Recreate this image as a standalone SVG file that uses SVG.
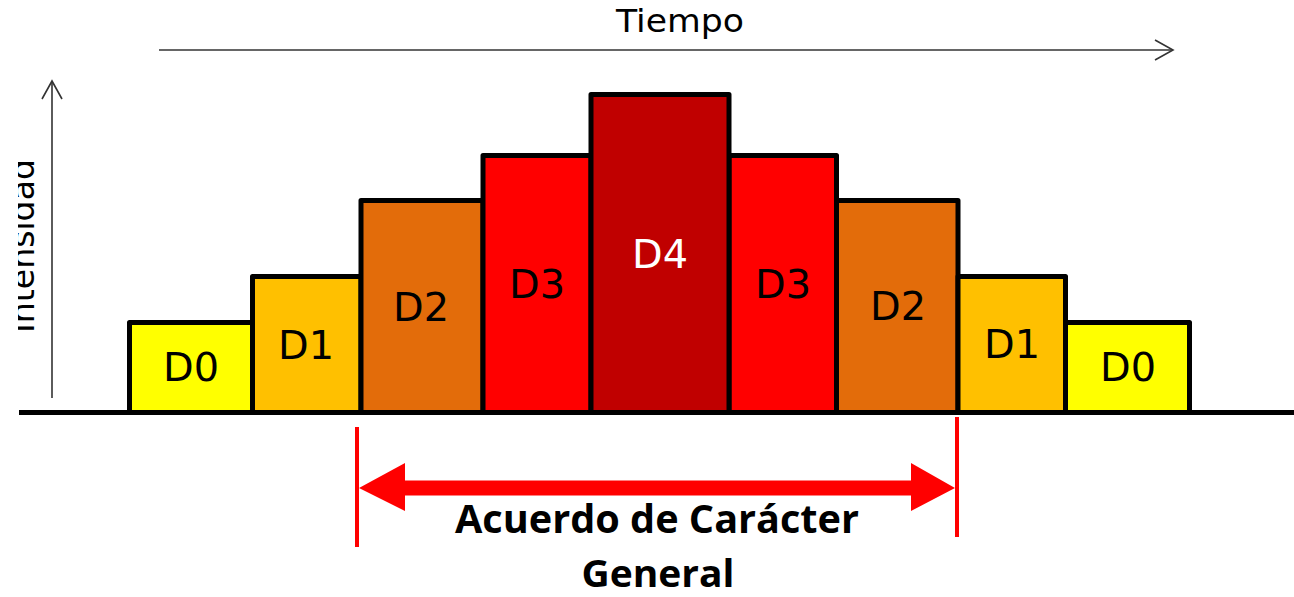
<svg xmlns="http://www.w3.org/2000/svg" width="1294" height="597" viewBox="0 0 1294 597">
  <defs>
    <style>
      .bar { stroke: #000; stroke-width: 5; stroke-linejoin: round; }
      .lbl { font-family: "DejaVu Sans", sans-serif; font-size: 39px; text-anchor: middle; fill: #000; }
      .axis { stroke: #333; stroke-width: 1.6; fill: none; }
      .cap { font-family: "Open Sans", "Liberation Sans", sans-serif; font-weight: bold; font-size: 40px; text-anchor: middle; fill: #000; }
      .red { stroke: #ff0000; stroke-width: 4; }
    </style>
    <clipPath id="clipInt">
      <rect x="18" y="0" width="60" height="597"/>
    </clipPath>
  </defs>
  <rect width="1294" height="597" fill="#fff"/>

  <g id="axes">
    <line class="axis" x1="159" y1="50" x2="1172" y2="50"/>
    <polyline class="axis" stroke-width="2" points="1155,40 1173,50 1155,60"/>
    <text x="680" y="32" font-family="DejaVu Sans, sans-serif" font-size="32" text-anchor="middle" textLength="128" lengthAdjust="spacingAndGlyphs" fill="#000">Tiempo</text>
    <line class="axis" x1="52" y1="398" x2="52" y2="82"/>
    <polyline class="axis" stroke-width="2" points="42,99 52,81 62,99"/>
    <g clip-path="url(#clipInt)">
      <text transform="translate(34,246) rotate(-90)" x="0" y="0" font-family="DejaVu Sans, sans-serif" font-size="34" text-anchor="middle" textLength="174" lengthAdjust="spacingAndGlyphs" fill="#000">Intensidad</text>
    </g>
  </g>

  <g id="bar-d0-left">
    <rect class="bar" x="129.5" y="322.5" width="123" height="90" fill="#ffff00"/>
    <text class="lbl" x="191" y="381" textLength="56" lengthAdjust="spacingAndGlyphs">D0</text>
  </g>
  <g id="bar-d1-left">
    <rect class="bar" x="252.5" y="276.5" width="108.5" height="136" fill="#ffc000"/>
    <text class="lbl" x="306" y="359" textLength="56" lengthAdjust="spacingAndGlyphs">D1</text>
  </g>
  <g id="bar-d2-left">
    <rect class="bar" x="361" y="200.5" width="122" height="212" fill="#e36c0a"/>
    <text class="lbl" x="421" y="321" textLength="56" lengthAdjust="spacingAndGlyphs">D2</text>
  </g>
  <g id="bar-d3-left">
    <rect class="bar" x="483" y="155.5" width="108" height="257" fill="#ff0000"/>
    <text class="lbl" x="537" y="298" textLength="56" lengthAdjust="spacingAndGlyphs">D3</text>
  </g>
  <g id="bar-d3-right">
    <rect class="bar" x="729" y="155.5" width="107.5" height="257" fill="#ff0000"/>
    <text class="lbl" x="783" y="298" textLength="56" lengthAdjust="spacingAndGlyphs">D3</text>
  </g>
  <g id="bar-d2-right">
    <rect class="bar" x="836.5" y="200.5" width="121.5" height="212" fill="#e36c0a"/>
    <text class="lbl" x="898" y="320" textLength="56" lengthAdjust="spacingAndGlyphs">D2</text>
  </g>
  <g id="bar-d1-right">
    <rect class="bar" x="958" y="276.5" width="107.5" height="136" fill="#ffc000"/>
    <text class="lbl" x="1012" y="358" textLength="56" lengthAdjust="spacingAndGlyphs">D1</text>
  </g>
  <g id="bar-d0-right">
    <rect class="bar" x="1065.5" y="322.5" width="124" height="90" fill="#ffff00"/>
    <text class="lbl" x="1128" y="381" textLength="56" lengthAdjust="spacingAndGlyphs">D0</text>
  </g>
  <g id="bar-d4">
    <rect class="bar" x="591" y="94.5" width="138" height="318" fill="#c00000"/>
    <text class="lbl" x="660" y="268" textLength="56" lengthAdjust="spacingAndGlyphs" style="fill:#fff">D4</text>
  </g>

  <g id="connectors">
    <line x1="19" y1="412.5" x2="1294" y2="412.5" stroke="#000" stroke-width="5"/>
    <line class="red" x1="357" y1="427" x2="357" y2="547"/>
    <line class="red" x1="957" y1="417" x2="957" y2="537"/>
    <polygon fill="#ff0000" points="359,488 405,463 405,480.5 911,480.5 911,463 955,488 911,511 911,495.5 405,495.5 405,511"/>
  </g>

  <g id="caption">
    <text class="cap" x="657" y="533" textLength="404" lengthAdjust="spacingAndGlyphs">Acuerdo de Carácter</text>
    <text class="cap" x="658" y="587" font-size="38" style="font-size:38px" textLength="153" lengthAdjust="spacingAndGlyphs">General</text>
  </g>
</svg>
